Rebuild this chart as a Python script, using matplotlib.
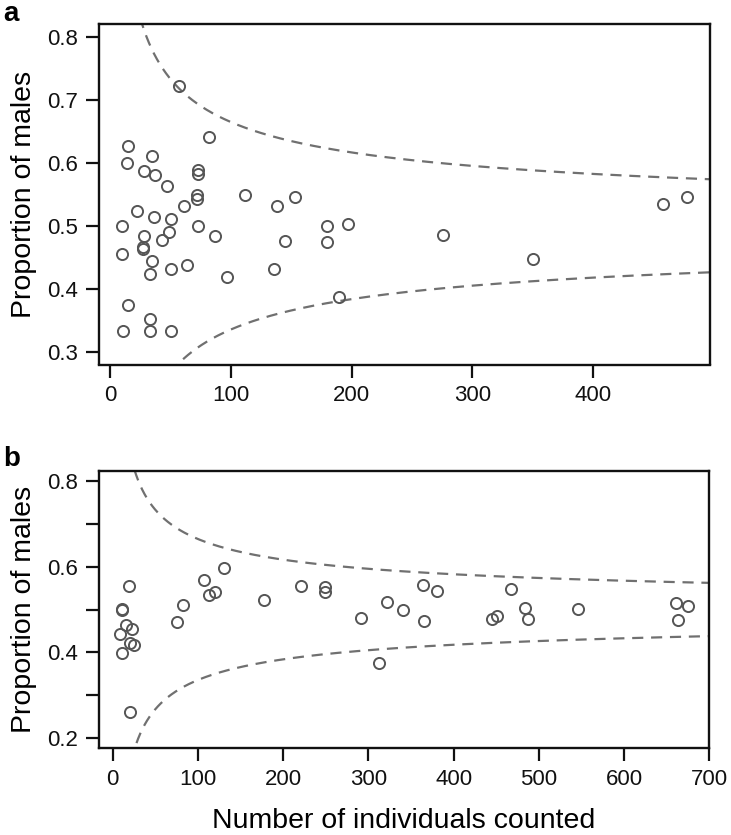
import numpy as np
import matplotlib
matplotlib.use("Agg")
import matplotlib.pyplot as plt

plt.rcParams['font.family'] = ['Liberation Sans', 'DejaVu Sans']

# ---- data: panel a ----
a_n = [57, 82, 15, 14, 35, 28, 37, 47, 73, 73, 72, 72, 112, 61, 138, 153,
       22, 10, 36, 50, 73, 49, 28, 43, 87, 27, 27, 10, 35, 33, 50, 64,
       97, 136, 145, 180, 180, 197, 190, 15, 11, 33, 33, 50, 276, 350, 458, 478]
a_prop = [0.722, 0.640, 0.626, 0.600, 0.611, 0.587, 0.580, 0.563, 0.588, 0.582,
          0.549, 0.543, 0.549, 0.532, 0.532, 0.545, 0.523, 0.500, 0.514, 0.510,
          0.500, 0.490, 0.483, 0.478, 0.483, 0.466, 0.463, 0.455, 0.444, 0.424,
          0.431, 0.438, 0.418, 0.431, 0.476, 0.500, 0.475, 0.503, 0.387, 0.375,
          0.333, 0.352, 0.333, 0.333, 0.486, 0.448, 0.534, 0.545]

# ---- data: panel b ----
b_n = [19, 11, 11, 15, 9, 23, 20, 25, 11, 20, 75, 82, 107, 113, 120, 131,
       178, 221, 249, 249, 291, 312, 322, 340, 364, 365, 380, 445, 451, 467,
       484, 487, 546, 661, 675, 663]
b_prop = [0.554, 0.499, 0.501, 0.464, 0.443, 0.454, 0.421, 0.416, 0.399, 0.261,
          0.471, 0.510, 0.568, 0.535, 0.542, 0.596, 0.523, 0.556, 0.553, 0.542,
          0.481, 0.374, 0.518, 0.499, 0.558, 0.474, 0.543, 0.477, 0.484, 0.547,
          0.503, 0.477, 0.502, 0.515, 0.509, 0.476]

# expected proportion and 99.9% binomial limits
p0 = 0.5
z = 3.29

a_xticks = [0, 100, 200, 300, 400]
a_yticks = [0.3, 0.4, 0.5, 0.6, 0.7, 0.8]
b_xticks = [0, 100, 200, 300, 400, 500, 600, 700]
b_yticks = [0.2, 0.3, 0.4, 0.5, 0.6, 0.7, 0.8]
b_ylabels = ['0.2', '', '0.4', '', '0.6', '', '0.8']

W, H = 731, 835
fig = plt.figure(figsize=(W / 100, H / 100), dpi=100)

def px_axes(l, t, r, b):
    return fig.add_axes([l / W, 1 - b / H, (r - l) / W, (b - t) / H])

ax_a = px_axes(98.7, 24, 710, 364.5)
ax_b = px_axes(98.7, 470.7, 709.3, 748.3)

pt_col = '#555555'
ln_col = '#707070'

def style(ax):
    for s in ax.spines.values():
        s.set_linewidth(1.7)
        s.set_color('#111111')
    ax.tick_params(direction='out', length=9.5, width=1.6, labelsize=16,
                   pad=5.5, colors='#111111')

def funnel(ax, nmax):
    n = np.linspace(1, nmax, 2000)
    se = np.sqrt(p0 * (1 - p0) / n)
    for sign in (1, -1):
        ax.plot(n, p0 + sign * z * se, color=ln_col, lw=1.6, ls=(0, (5, 3.5)),
                zorder=1)

# panel a
funnel(ax_a, 600)
ax_a.plot(a_n, a_prop, 'o', ms=8, mfc='none', mec=pt_col, mew=1.4, zorder=2)
ax_a.set_xlim(-9.5, 497)
ax_a.set_ylim(0.28, 0.82)
ax_a.set_xticks(a_xticks)
ax_a.set_yticks(a_yticks)
ax_a.set_yticklabels([f'{v:.1f}' for v in a_yticks])
ax_a.set_ylabel('Proportion of males', fontsize=20.5, labelpad=7)
style(ax_a)

# panel b
funnel(ax_b, 800)
ax_b.plot(b_n, b_prop, 'o', ms=8, mfc='none', mec=pt_col, mew=1.4, zorder=2)
ax_b.set_xlim(-16.5, 700)
ax_b.set_ylim(0.176, 0.824)
ax_b.set_xticks(b_xticks)
ax_b.set_yticks(b_yticks)
ax_b.set_yticklabels(b_ylabels)
ax_b.set_ylabel('Proportion of males', fontsize=20.5, labelpad=7)
ax_b.set_xlabel('Number of individuals counted', fontsize=20.5, labelpad=13)
style(ax_b)

fig.text(3 / W, 1 - 21 / H, 'a', fontsize=20, fontweight='bold', ha='left', va='baseline')
fig.text(3 / W, 1 - 466 / H, 'b', fontsize=20, fontweight='bold', ha='left', va='baseline')

fig.savefig('out.png', dpi=100)
